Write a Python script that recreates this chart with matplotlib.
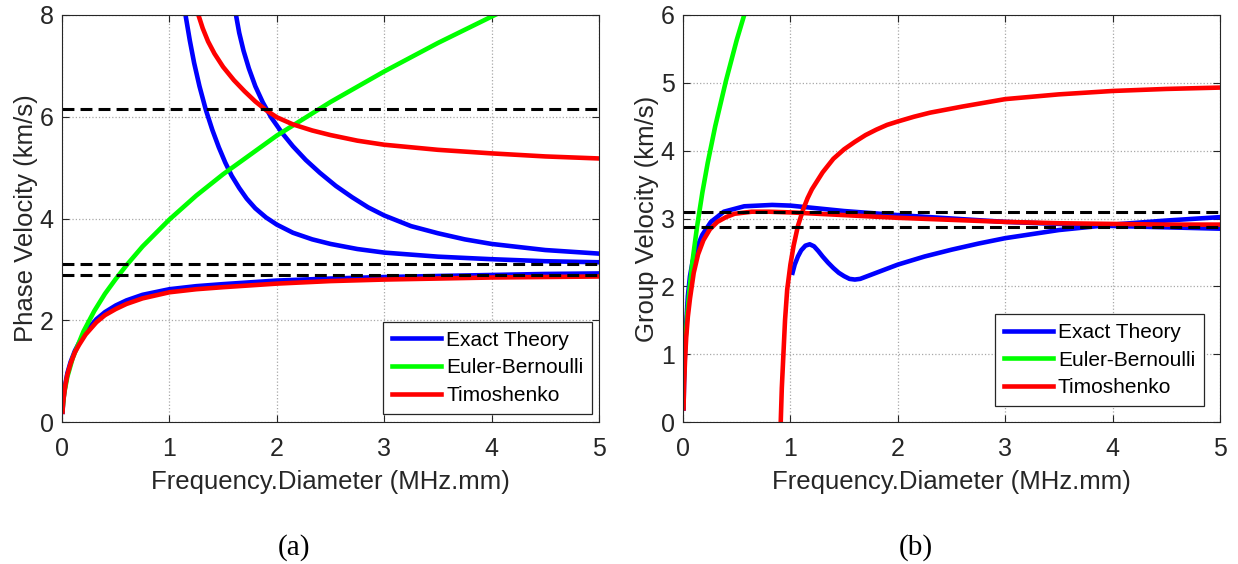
import matplotlib
matplotlib.use('Agg')
import matplotlib.pyplot as plt

plt.rcParams['font.family'] = ['Liberation Sans', 'DejaVu Sans']

BLUE = '#0000ff'
GREEN = '#00ff00'
RED = '#ff0000'

# Phase velocity (km/s) vs frequency.diameter (MHz.mm)
phase_exact_0_x = [0.005, 0.01, 0.02, 0.03, 0.05, 0.08, 0.12, 0.16, 0.22, 0.32, 0.4, 0.5, 0.6, 0.75, 1.0, 1.25, 1.5, 2.0, 2.5, 3.0, 3.5, 4.0, 4.5, 5.0]
phase_exact_0_y = [0.2, 0.38, 0.57, 0.73, 0.96, 1.18, 1.4, 1.56, 1.77, 2.02, 2.16, 2.29, 2.39, 2.5, 2.61, 2.67, 2.71, 2.78, 2.82, 2.85, 2.87, 2.89, 2.91, 2.92]
phase_exact_1_x = [1.15, 1.19, 1.23, 1.28, 1.34, 1.40, 1.46, 1.52, 1.58, 1.65, 1.72, 1.8, 1.9, 2.0, 2.15, 2.33, 2.5, 2.75, 3.0, 3.5, 4.0, 4.5, 5.0]
phase_exact_1_y = [8.0, 7.5, 7.06, 6.6, 6.13, 5.74, 5.4, 5.1, 4.84, 4.6, 4.39, 4.2, 4.02, 3.88, 3.72, 3.59, 3.5, 3.4, 3.33, 3.25, 3.2, 3.16, 3.14]
phase_exact_2_x = [1.62, 1.65, 1.69, 1.74, 1.8, 1.87, 1.95, 2.05, 2.15, 2.27, 2.4, 2.55, 2.7, 2.85, 3.0, 3.25, 3.5, 3.75, 4.0, 4.5, 5.0]
phase_exact_2_y = [8.0, 7.65, 7.3, 6.95, 6.6, 6.28, 5.98, 5.68, 5.42, 5.15, 4.9, 4.64, 4.42, 4.22, 4.06, 3.85, 3.71, 3.59, 3.5, 3.38, 3.31]
phase_euler_x = [0.005, 0.02, 0.05, 0.1, 0.2, 0.3, 0.4, 0.5, 0.6, 0.75, 1.0, 1.25, 1.5, 2.0, 2.5, 3.0, 3.5, 4.03]
phase_euler_y = [0.25, 0.56, 0.89, 1.26, 1.78, 2.18, 2.52, 2.81, 3.08, 3.45, 3.98, 4.45, 4.87, 5.63, 6.29, 6.89, 7.45, 8.0]
phase_timo_0_x = [0.005, 0.01, 0.02, 0.03, 0.05, 0.08, 0.12, 0.16, 0.22, 0.32, 0.4, 0.5, 0.6, 0.75, 1.0, 1.25, 1.5, 2.0, 2.5, 3.0, 3.5, 4.0, 4.5, 5.0]
phase_timo_0_y = [0.2, 0.37, 0.55, 0.71, 0.93, 1.15, 1.37, 1.52, 1.72, 1.96, 2.1, 2.22, 2.32, 2.43, 2.55, 2.61, 2.65, 2.72, 2.77, 2.8, 2.82, 2.84, 2.85, 2.86]
phase_timo_1_x = [1.27, 1.31, 1.36, 1.42, 1.5, 1.6, 1.7, 1.8, 1.9, 2.0, 2.15, 2.33, 2.5, 2.75, 3.0, 3.5, 4.0, 4.5, 5.0]
phase_timo_1_y = [8.0, 7.74, 7.48, 7.24, 6.98, 6.72, 6.5, 6.3, 6.13, 5.99, 5.85, 5.73, 5.64, 5.53, 5.45, 5.35, 5.28, 5.22, 5.18]
phase_refs = [6.15, 3.1, 2.88]

# Group velocity (km/s) vs frequency.diameter (MHz.mm)
group_exact_0_x = [0.005, 0.01, 0.02, 0.03, 0.045, 0.065, 0.09, 0.13, 0.18, 0.26, 0.38, 0.57, 0.83, 1.0, 1.25, 1.5, 2.0, 2.5, 3.0, 3.5, 4.0, 4.5, 5.0]
group_exact_0_y = [0.2, 0.6, 1.1, 1.45, 1.85, 2.15, 2.37, 2.57, 2.76, 2.95, 3.1, 3.18, 3.2, 3.19, 3.15, 3.11, 3.05, 3.0, 2.95, 2.92, 2.89, 2.87, 2.85]
group_exact_1_x = [1.02, 1.04, 1.07, 1.1, 1.14, 1.18, 1.22, 1.26, 1.3, 1.35, 1.4, 1.45, 1.5, 1.55, 1.6, 1.65, 1.7, 1.8, 1.9, 2.0, 2.25, 2.5, 2.75, 3.0, 3.25, 3.5, 3.75, 4.0, 4.5, 5.0]
group_exact_1_y = [2.2, 2.32, 2.44, 2.53, 2.6, 2.62, 2.59, 2.52, 2.44, 2.35, 2.27, 2.2, 2.15, 2.11, 2.1, 2.11, 2.14, 2.2, 2.26, 2.32, 2.44, 2.54, 2.63, 2.71, 2.77, 2.83, 2.87, 2.91, 2.97, 3.02]
group_euler_x = [0.001, 0.01, 0.02, 0.04, 0.06, 0.09, 0.13, 0.18, 0.23, 0.3, 0.4, 0.5, 0.57]
group_euler_y = [0.25, 0.8, 1.13, 1.59, 1.95, 2.39, 2.87, 3.38, 3.82, 4.36, 5.03, 5.63, 6.0]
group_timo_0_x = [0.005, 0.01, 0.02, 0.03, 0.045, 0.065, 0.1, 0.14, 0.19, 0.25, 0.32, 0.4, 0.48, 0.64, 0.8, 1.0, 1.5, 2.0, 2.5, 3.0, 3.5, 4.0, 4.5, 5.0]
group_timo_0_y = [0.2, 0.55, 0.95, 1.25, 1.55, 1.82, 2.2, 2.47, 2.68, 2.84, 2.95, 3.02, 3.07, 3.1, 3.1, 3.09, 3.05, 3.01, 2.98, 2.95, 2.93, 2.92, 2.91, 2.91]
group_timo_1_x = [0.91, 0.92, 0.935, 0.95, 0.97, 1.0, 1.03, 1.07, 1.12, 1.16, 1.2, 1.3, 1.4, 1.5, 1.6, 1.7, 1.8, 1.9, 2.0, 2.15, 2.3, 2.6, 3.0, 3.5, 4.0, 4.5, 5.0]
group_timo_1_y = [0.0, 0.5, 1.0, 1.5, 1.95, 2.32, 2.6, 2.89, 3.14, 3.3, 3.43, 3.68, 3.88, 4.02, 4.13, 4.23, 4.31, 4.38, 4.43, 4.5, 4.56, 4.65, 4.76, 4.83, 4.88, 4.91, 4.93]
group_refs = [3.1, 2.88]

LW = 3.3
INK = '#262626'


def style_axes(ax, ymax, ylabel):
    ax.set_xlim(0, 5)
    ax.set_ylim(0, ymax)
    ax.set_xticks(range(0, 6))
    ax.set_yticks(range(0, ymax + 1, 2 if ymax == 8 else 1))
    ax.grid(True, color='#a8a8a8', linestyle=':', linewidth=0.9)
    ax.set_axisbelow(True)
    ax.tick_params(direction='in', length=5, width=0.8, top=True, right=True,
                   labelsize=18, colors=INK)
    ax.tick_params(axis='x', pad=11)
    ax.tick_params(axis='y', pad=6)
    for sp in ax.spines.values():
        sp.set_color(INK)
        sp.set_linewidth(0.8)
    ax.set_xlabel('Frequency.Diameter (MHz.mm)', fontsize=18.5, color=INK, labelpad=6)
    ax.set_ylabel(ylabel, fontsize=18.5, color=INK, labelpad=1)


fig = plt.figure(figsize=(12.38, 5.64), dpi=100)
ax_a = fig.add_axes([62 / 1238, 1 - 422 / 564, 537 / 1238, 407 / 564])
ax_b = fig.add_axes([683 / 1238, 1 - 422 / 564, 537 / 1238, 407 / 564])

# (a) phase velocity
ax_a.plot(phase_exact_0_x, phase_exact_0_y, color=BLUE, lw=LW, label='Exact Theory')
ax_a.plot(phase_exact_1_x, phase_exact_1_y, color=BLUE, lw=LW)
ax_a.plot(phase_exact_2_x, phase_exact_2_y, color=BLUE, lw=LW)
ax_a.plot(phase_euler_x, phase_euler_y, color=GREEN, lw=LW, label='Euler-Bernoulli')
ax_a.plot(phase_timo_0_x, phase_timo_0_y, color=RED, lw=LW, label='Timoshenko')
ax_a.plot(phase_timo_1_x, phase_timo_1_y, color=RED, lw=LW)
for v in phase_refs:
    ax_a.axhline(v, color='black', lw=2.2, dashes=(3.9, 2.0))
style_axes(ax_a, 8, 'Phase Velocity (km/s)')

# (b) group velocity
ax_b.plot(group_exact_0_x, group_exact_0_y, color=BLUE, lw=LW, label='Exact Theory')
ax_b.plot(group_exact_1_x, group_exact_1_y, color=BLUE, lw=LW)
ax_b.plot(group_euler_x, group_euler_y, color=GREEN, lw=LW, label='Euler-Bernoulli')
ax_b.plot(group_timo_0_x, group_timo_0_y, color=RED, lw=LW, label='Timoshenko')
ax_b.plot(group_timo_1_x, group_timo_1_y, color=RED, lw=LW)
for v in group_refs:
    ax_b.axhline(v, color='black', lw=2.2, dashes=(3.9, 2.0))
style_axes(ax_b, 6, 'Group Velocity (km/s)')

legend_kw = dict(fontsize=15, handlelength=2.35, handletextpad=0.25, labelspacing=0.42,
                 fancybox=False, framealpha=1, edgecolor=INK, borderpad=0.42,
                 borderaxespad=0, loc='lower right')
leg_a = ax_a.legend(bbox_to_anchor=(0.987, 0.02), **legend_kw)
leg_b = ax_b.legend(bbox_to_anchor=(0.970, 0.039), **legend_kw)
for leg in (leg_a, leg_b):
    leg.get_frame().set_linewidth(0.9)

fig.text(0.2375, 0.029, '(a)', fontsize=21, family='Liberation Serif', ha='center', va='center')
fig.text(0.7399, 0.029, '(b)', fontsize=21, family='Liberation Serif', ha='center', va='center')

fig.savefig('out.png', dpi=100)
